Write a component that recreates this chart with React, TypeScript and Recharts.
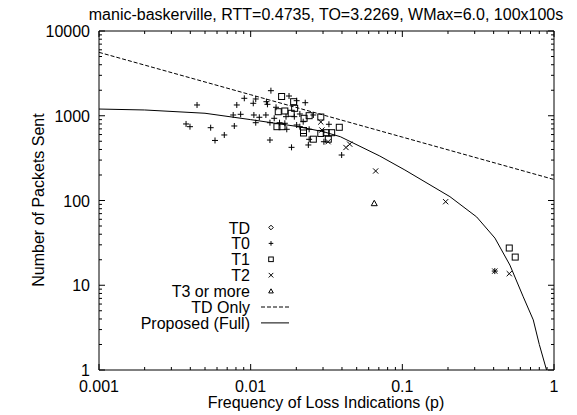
import React from 'react';
import { ComposedChart, Scatter, Line, XAxis, YAxis } from 'recharts';

const W = 577;
const H = 415;
const FONT = '"Liberation Sans", Arial, Helvetica, sans-serif';
const FS = 16;

// ticks (log axes, decades + minors 2..9)
const xMajorTicks = [0.001, 0.01, 0.1, 1];
const xTickLabels = ['0.001', '0.01', '0.1', '1'];
const yMajorTicks = [1, 10, 100, 1000, 10000];
const yTickLabels = ['1', '10', '100', '1000', '10000'];
const minorSteps = [2, 3, 4, 5, 6, 7, 8, 9];

// model curves (p, packets)
const tdOnlyP = [0.001, 0.01, 0.1, 1];
const tdOnlyN = [5600, 1770, 560, 177];
const fullP = [0.001, 0.002, 0.005, 0.01, 0.02, 0.03, 0.039, 0.071, 0.104, 0.206, 0.309, 0.408, 0.512, 0.627, 0.73, 0.8, 0.893];
const fullN = [1200, 1170, 1070, 900, 750, 650, 566, 335, 229, 111, 64, 36, 17.3, 7.3, 3.9, 2.0, 1];

// measured points [p, packets]
const tdPoints: [number, number][] = [];
const t0Points: [number, number][] = [
  [0.00443, 1340], [0.00375, 800], [0.00398, 743], [0.00545, 723], [0.0067, 593], [0.00582, 511],
  [0.0078, 757], [0.00767, 1021], [0.00859, 1040], [0.0081, 1340], [0.00908, 1607], [0.0104, 1403],
  [0.0108, 1577], [0.0105, 1021], [0.0114, 959], [0.0108, 828], [0.0126, 1021], [0.0127, 1465],
  [0.0136, 1976], [0.0143, 933], [0.0134, 828], [0.0147, 1259], [0.0134, 517], [0.0179, 1710],
  [0.0201, 1506], [0.0229, 1426], [0.0171, 975], [0.0194, 975], [0.0211, 1049], [0.0259, 1021],
  [0.0328, 793], [0.0155, 828], [0.0168, 815], [0.0173, 692], [0.0201, 778], [0.0243, 692],
  [0.0304, 494], [0.0243, 527], [0.024, 452], [0.0186, 424], [0.0398, 344], [0.407, 14.7],
  [0.0129, 1365], [0.0211, 743], [0.0222, 851],
];
const t1Points: [number, number][] = [
  [0.016, 1687], [0.0192, 1465], [0.0195, 1224], [0.0152, 1116], [0.0168, 1138], [0.0185, 1069],
  [0.0225, 933], [0.0243, 1002], [0.029, 966], [0.0384, 731], [0.0149, 743], [0.0161, 743],
  [0.0223, 670], [0.0223, 626], [0.029, 618], [0.0315, 631], [0.0342, 631], [0.0259, 529],
  [0.0325, 529], [0.507, 27.5], [0.555, 21.5],
];
const t2Points: [number, number][] = [
  [0.029, 844], [0.0295, 679], [0.0324, 494], [0.0425, 422], [0.045, 462], [0.0667, 223],
  [0.193, 96.8], [0.407, 14.7], [0.507, 13.7],
];
const t3Points: [number, number][] = [[0.0653, 92.7]];

const legendNames = ['TD', 'T0', 'T1', 'T2', 'T3 or more', 'TD Only', 'Proposed (Full)'];

const withMinors = (majors: number[]) => {
  const out: number[] = [];
  majors.forEach((m, i) => {
    out.push(m);
    if (i < majors.length - 1) minorSteps.forEach((k) => out.push(+(m * k).toPrecision(3)));
  });
  return out;
};
const xTicks = withMinors(xMajorTicks);
const yTicks = withMinors(yMajorTicks);
const majorIndex = (majors: number[], v: number) =>
  majors.findIndex((m) => Math.abs(Math.log10(m) - Math.log10(v)) < 1e-6);

const toRows = (pts: [number, number][]) => pts.map(([p, n]) => ({ p, n }));
const toLine = (ps: number[], ns: number[]) => ps.map((p, i) => ({ p, n: ns[i] }));

// ---- markers
const Plus = ({ cx, cy, s = 3 }: any) => (
  <path d={`M${cx - s},${cy}H${cx + s}M${cx},${cy - s}V${cy + s}`} stroke="#000" strokeWidth={1} fill="none" />
);
const Box = ({ cx, cy, s = 3 }: any) => (
  <rect x={cx - s} y={cy - s} width={2 * s} height={2 * s} stroke="#000" strokeWidth={1} fill="none" />
);
const Cross = ({ cx, cy, s = 2.6 }: any) => (
  <path d={`M${cx - s},${cy - s}L${cx + s},${cy + s}M${cx - s},${cy + s}L${cx + s},${cy - s}`} stroke="#000" strokeWidth={1} fill="none" />
);
const Tri = ({ cx, cy, s = 3 }: any) => (
  <path d={`M${cx},${cy - s}L${cx + s},${cy + s * 0.8}L${cx - s},${cy + s * 0.8}Z`} stroke="#000" strokeWidth={1} fill="none" />
);
const Diamond = ({ cx, cy, s = 3 }: any) => (
  <path d={`M${cx},${cy - s}L${cx + s},${cy}L${cx},${cy + s}L${cx - s},${cy}Z`} stroke="#000" strokeWidth={1} fill="none" />
);

// ---- ticks (drawn inward like gnuplot)
const tickFont = { fontFamily: FONT, fontSize: FS, fill: '#000' };

const BottomTick = ({ x, y, payload }: any) => {
  const i = majorIndex(xMajorTicks, payload.value);
  return (
    <g>
      <line x1={x} x2={x} y1={y} y2={y - (i >= 0 ? 6 : 3)} stroke="#000" />
      {i >= 0 && (
        <text x={x} y={y + 22} textAnchor="middle" {...tickFont}>{xTickLabels[i]}</text>
      )}
    </g>
  );
};
const TopTick = ({ x, y, payload }: any) => {
  const i = majorIndex(xMajorTicks, payload.value);
  return <line x1={x} x2={x} y1={y} y2={y + (i >= 0 ? 6 : 3)} stroke="#000" />;
};
const LeftTick = ({ x, y, payload }: any) => {
  const i = majorIndex(yMajorTicks, payload.value);
  return (
    <g>
      <line x1={x} x2={x + (i >= 0 ? 6 : 3)} y1={y} y2={y} stroke="#000" />
      {i >= 0 && (
        <text x={x - 9} y={y + 6} textAnchor="end" {...tickFont}>{yTickLabels[i]}</text>
      )}
    </g>
  );
};
const RightTick = ({ x, y, payload }: any) => {
  const i = majorIndex(yMajorTicks, payload.value);
  return <line x1={x} x2={x - (i >= 0 ? 6 : 3)} y1={y} y2={y} stroke="#000" />;
};

const legendMarks = [Diamond, Plus, Box, Cross, Tri];

const Overlay = () => {
  const rowY = (i: number) => 227.5 + i * 15.9;
  return (
    <svg width={W} height={H} style={{ position: 'absolute', left: 0, top: 0, pointerEvents: 'none' }}>
      <g fontFamily={FONT} fontSize={FS} fill="#000">
        <text x={326} y={20} textAnchor="middle">
          manic-baskerville, RTT=0.4735, TO=3.2269, WMax=6.0, 100x100s
        </text>
        <text x={326} y={408} textAnchor="middle">Frequency of Loss Indications (p)</text>
        <text x={44} y={200} textAnchor="middle" transform="rotate(-90 44 200)">
          Number of Packets Sent
        </text>
        {legendNames.map((name, i) => (
          <text key={name} x={250} y={rowY(i) + 6} textAnchor="end">{name}</text>
        ))}
      </g>
      {legendMarks.map((M, i) => (
        <M key={i} cx={271} cy={rowY(i)} s={2.3} />
      ))}
      <line x1={261} x2={289} y1={rowY(5)} y2={rowY(5)} stroke="#000" strokeDasharray="4 2" />
      <line x1={261} x2={289} y1={rowY(6)} y2={rowY(6)} stroke="#000" />
    </svg>
  );
};

export default function App() {
  return (
    <div style={{ position: 'absolute', left: 0, top: 0, width: W, height: H, background: '#fff' }}>
      <ComposedChart width={W} height={H} margin={{ top: 30, right: 22, bottom: 44, left: 98 }}>
        <XAxis
          dataKey="p" type="number" scale="log" domain={[0.001, 1]} allowDataOverflow
          ticks={xTicks} interval={0} tick={<BottomTick />} tickSize={0} tickMargin={0}
          tickLine={false} axisLine={{ stroke: '#000' }} height={1}
        />
        <XAxis
          xAxisId="top" orientation="top" dataKey="p" type="number" scale="log" domain={[0.001, 1]} allowDataOverflow
          ticks={xTicks} interval={0} tick={<TopTick />} tickSize={0} tickMargin={0}
          tickLine={false} axisLine={{ stroke: '#000' }} height={1}
        />
        <YAxis
          dataKey="n" type="number" scale="log" domain={[1, 10000]} allowDataOverflow
          ticks={yTicks} interval={0} tick={<LeftTick />} tickSize={0} tickMargin={0}
          tickLine={false} axisLine={{ stroke: '#000' }} width={1}
        />
        <YAxis
          yAxisId="right" orientation="right" dataKey="n" type="number" scale="log" domain={[1, 10000]} allowDataOverflow
          ticks={yTicks} interval={0} tick={<RightTick />} tickSize={0} tickMargin={0}
          tickLine={false} axisLine={{ stroke: '#000' }} width={1}
        />
        <Line data={toLine(tdOnlyP, tdOnlyN)} dataKey="n" type="linear" stroke="#000" strokeWidth={1}
          strokeDasharray="4 2" dot={false} activeDot={false} isAnimationActive={false} />
        <Line data={toLine(fullP, fullN)} dataKey="n" type="linear" stroke="#000" strokeWidth={1}
          dot={false} activeDot={false} isAnimationActive={false} />
        <Scatter data={toRows(tdPoints)} dataKey="n" shape={<Diamond />} isAnimationActive={false} />
        <Scatter data={toRows(t0Points)} dataKey="n" shape={<Plus />} isAnimationActive={false} />
        <Scatter data={toRows(t1Points)} dataKey="n" shape={<Box />} isAnimationActive={false} />
        <Scatter data={toRows(t2Points)} dataKey="n" shape={<Cross />} isAnimationActive={false} />
        <Scatter data={toRows(t3Points)} dataKey="n" shape={<Tri />} isAnimationActive={false} />
      </ComposedChart>
      <Overlay />
    </div>
  );
}
